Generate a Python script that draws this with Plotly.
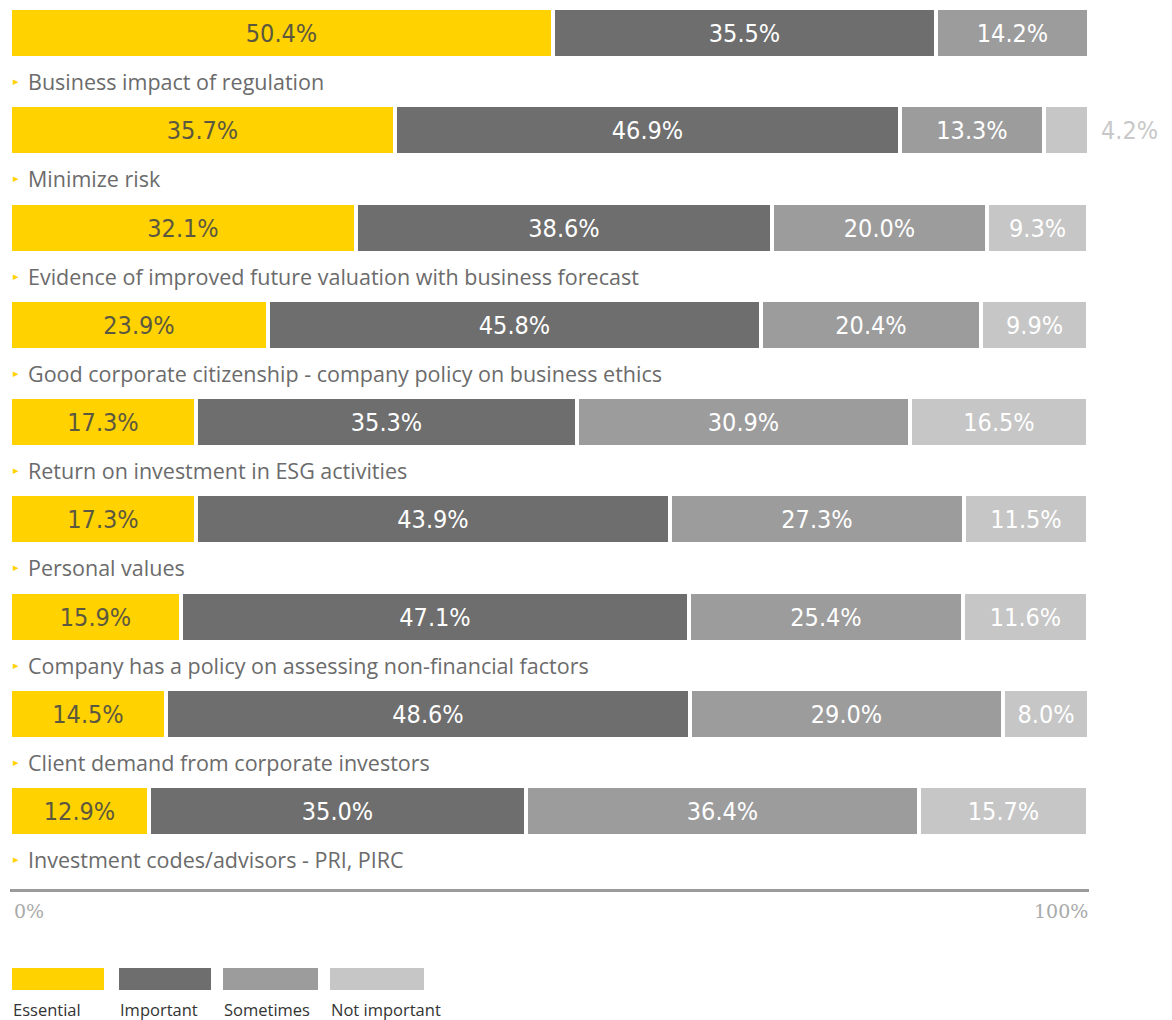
import plotly.graph_objects as go

# Survey results: share of respondents per rating, one row per driver
categories = [
    "Business impact of regulation",
    "Minimize risk",
    "Evidence of improved future valuation with business forecast",
    "Good corporate citizenship - company policy on business ethics",
    "Return on investment in ESG activities",
    "Personal values",
    "Company has a policy on assessing non-financial factors",
    "Client demand from corporate investors",
    "Investment codes/advisors - PRI, PIRC",
]
essential = [50.4, 35.7, 32.1, 23.9, 17.3, 17.3, 15.9, 14.5, 12.9]
important = [35.5, 46.9, 38.6, 45.8, 35.3, 43.9, 47.1, 48.6, 35.0]
sometimes = [14.2, 13.3, 20.0, 20.4, 30.9, 27.3, 25.4, 29.0, 36.4]
not_important = [None, 4.2, 9.3, 9.9, 16.5, 11.5, 11.6, 8.0, 15.7]

series_names = ["Essential", "Important", "Sometimes", "Not important"]
series_values = [essential, important, sometimes, not_important]
colors = ["#FFD200", "#6E6E6E", "#9C9C9C", "#C6C6C6"]
text_colors = ["#5c5840", "#FFFFFF", "#FFFFFF", "#FFFFFF"]
axis_labels = ["0%", "100%"]

VALUE_FONT = "DejaVu Sans Condensed, DejaVu Sans"

# Page geometry (pixels)
W, H = 1172, 1020
L, R, T, B = 10, 83, 0, 131
ROW = 97.25          # distance between rows
FIRST = 33.0         # centre of first bar
plot_w = W - L - R
plot_h = H - T - B


def px_x(px):
    return (px - L) / plot_w


def px_y(py):
    return (H - B - py) / plot_h


row_idx = list(range(len(categories)))
fig = go.Figure()

for name, vals, col, tcol in zip(series_names, series_values, colors, text_colors):
    positions = ["none" if (v is None or v < 5) else "inside" for v in vals]
    fig.add_trace(go.Bar(
        x=vals,
        y=row_idx,
        orientation="h",
        name=name,
        marker=dict(color=col, line=dict(color="#FFFFFF", width=4)),
        width=50 / ROW,
        texttemplate="%{x:.1f}%",
        textposition=positions,
        insidetextanchor="middle",
        textangle=0,
        textfont=dict(family=VALUE_FONT, size=25, color=tcol),
        cliponaxis=False,
        hoverinfo="skip",
    ))

annotations = []

# Category labels under each bar, preceded by a small yellow marker
for i, cat in enumerate(categories):
    ly = i + 48.5 / ROW
    annotations.append(dict(
        x=px_x(11), y=ly, xref="paper", yref="y", text="▸",
        showarrow=False, xanchor="left", yanchor="middle",
        font=dict(family="DejaVu Sans", size=11, color="#FFD200"),
    ))
    annotations.append(dict(
        x=px_x(26), y=ly, xref="paper", yref="y", text=cat,
        showarrow=False, xanchor="left", yanchor="middle",
        font=dict(family="Open Sans", size=21.5, color="#6b6b6b"),
    ))

# Small values that do not fit inside their segment are written beside the bar
for i, v in enumerate(not_important):
    if v is not None and v < 5:
        annotations.append(dict(
            x=px_x(1099), y=i, xref="paper", yref="y", text=f"{v:.1f}%",
            showarrow=False, xanchor="left", yanchor="middle",
            font=dict(family=VALUE_FONT, size=25, color="#C8C8C8"),
        ))

# Axis end labels
annotations.append(dict(
    x=px_x(12), y=px_y(911), xref="paper", yref="paper", text=axis_labels[0],
    showarrow=False, xanchor="left", yanchor="middle",
    font=dict(family="DejaVu Serif", size=19, color="#AAAAAA"),
))
annotations.append(dict(
    x=px_x(1090), y=px_y(911), xref="paper", yref="paper", text=axis_labels[1],
    showarrow=False, xanchor="right", yanchor="middle",
    font=dict(family="DejaVu Serif", size=19, color="#AAAAAA"),
))

# Legend swatches and labels
legend_x = [(12, 104), (119, 211), (223, 318), (330, 424)]
shapes = []
for (x0, x1), col, name in zip(legend_x, colors, series_names):
    shapes.append(dict(
        type="rect", xref="paper", yref="paper",
        x0=px_x(x0), x1=px_x(x1), y0=px_y(990), y1=px_y(968),
        fillcolor=col, line=dict(width=0),
    ))
    annotations.append(dict(
        x=px_x(x0 - 1), y=px_y(1009), xref="paper", yref="paper", text=name,
        showarrow=False, xanchor="left", yanchor="middle",
        font=dict(family="Open Sans", size=16.5, color="#333333"),
    ))

fig.update_layout(
    width=W, height=H,
    margin=dict(l=L, r=R, t=T, b=B, pad=0),
    barmode="stack",
    bargap=0,
    showlegend=False,
    plot_bgcolor="#FFFFFF",
    paper_bgcolor="#FFFFFF",
    xaxis=dict(
        range=[0, 100.12], showgrid=False, zeroline=False,
        showticklabels=False, ticks="",
        showline=True, linecolor="#9A9A9A", linewidth=3,
        fixedrange=True,
    ),
    yaxis=dict(
        range=[(H - B - FIRST) / ROW, -FIRST / ROW],
        visible=False, fixedrange=True,
    ),
    annotations=annotations,
    shapes=shapes,
)

fig.write_html("out.html", config={"displayModeBar": False})
